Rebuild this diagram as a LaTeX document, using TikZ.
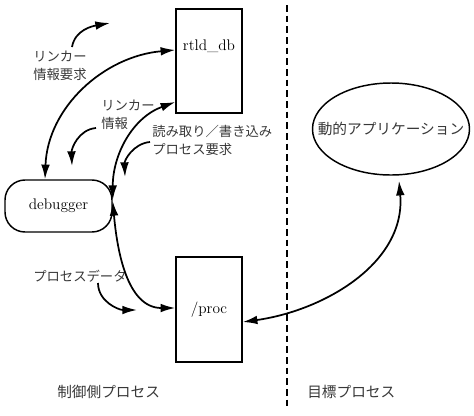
\documentclass[tikz,border=0pt]{standalone}
\usepackage{fontspec}
\newfontfamily\jp{Noto Sans CJK JP}
\usetikzlibrary{arrows.meta, calc, shapes.geometric}

\tikzset{
	box/.style={draw, line width=1.1pt, minimum width=49.5pt, inner sep=0pt, font=\fontsize{11.5}{13}\selectfont},
	jlabel/.style={inner sep=0pt, align=left, text=black!78, font=\jp\fontsize{10}{13.5}\selectfont},
	jtitle/.style={inner sep=0pt, text=black!78, font=\jp\fontsize{11}{12}\selectfont},
	link/.style={line width=1.3pt, {Latex[length=11pt,width=6.5pt]}-{Latex[length=11pt,width=6.5pt]}},
	hint/.style={line width=1.3pt, -{Latex[length=11pt,width=6.5pt]}},
	divider/.style={line width=1.2pt, dash pattern=on 5pt off 3pt},
}

\begin{document}
\begin{tikzpicture}[x=0.75pt, y=-0.75pt]
		\useasboundingbox (0,0) rectangle (474,415);

		\node[box, text height=30.75pt, text depth=47.25pt] (rtld) at (209,61) {rtld\_db};
		\node[box, minimum height=78.75pt] (proc) at (209,309.5) {/proc};
		\node[draw, line width=1.1pt, rounded corners=15pt, minimum width=80.25pt, minimum height=39pt,
			font=\fontsize{11.5}{13}\selectfont] (debugger) at (58.5,206) {debugger};
		\node[draw, ellipse, line width=1.1pt, minimum width=117.75pt, minimum height=69pt,
			label={[jtitle]center:動的アプリケーション}] (app) at (391,129) {};

		\coordinate (divtop) at (287,5);
		\coordinate (divbot) at (287,410);
		\draw[divider] (divtop) -- (divbot);

		\node[jlabel, anchor=north west] (lblreq) at (33,51) {リンカー\\情報要求};
		\node[jlabel, anchor=north west] (lblinfo) at (101,100) {リンカー\\情報};
		\node[jlabel, anchor=north west] (lblrw) at (152,125) {読み取り／書き込み\\プロセス要求};
		\node[jlabel, anchor=west] (lbldata) at (33,276) {プロセスデータ};
		\node[jtitle, anchor=west] (lblctrl) at (57,392) {制御側プロセス};
		\node[jtitle, anchor=west] (lbltarget) at (307,392) {目標プロセス};

		\draw[link] ($(debugger.north)+(-13.5,0)$) to[out=88,in=185] ($(rtld.west)+(0,-11)$);
		\draw[link] ($(debugger.east)+(0,-6)$) to[out=90,in=200] ($(rtld.west)+(0,41)$);
		\draw[link] ($(debugger.east)+(0,-5)$) to[out=-85,in=180] ($(proc.west)+(0,-1.5)$);
		\draw[link] ($(proc.east)+(0,12.5)$) to[out=8,in=-85] ($(app.south)+(8,5)$);

		\coordinate (reqa) at (72,47);
		\coordinate (reqb) at (110,23);
		\coordinate (infoa) at (96,128);
		\coordinate (infob) at (72,166);
		\coordinate (rwa) at (150,142);
		\coordinate (rwb) at (125,177);
		\coordinate (dataa) at (98,283);
		\coordinate (datab) at (137,310);

		\draw[hint] (reqa) to[out=80,in=190] (reqb);
		\draw[hint] (infoa) to[out=185,in=92] (infob);
		\draw[hint] (rwa) to[out=185,in=92] (rwb);
		\draw[hint] (dataa) to[out=-90,in=180] (datab);
	\end{tikzpicture}
\end{document}
